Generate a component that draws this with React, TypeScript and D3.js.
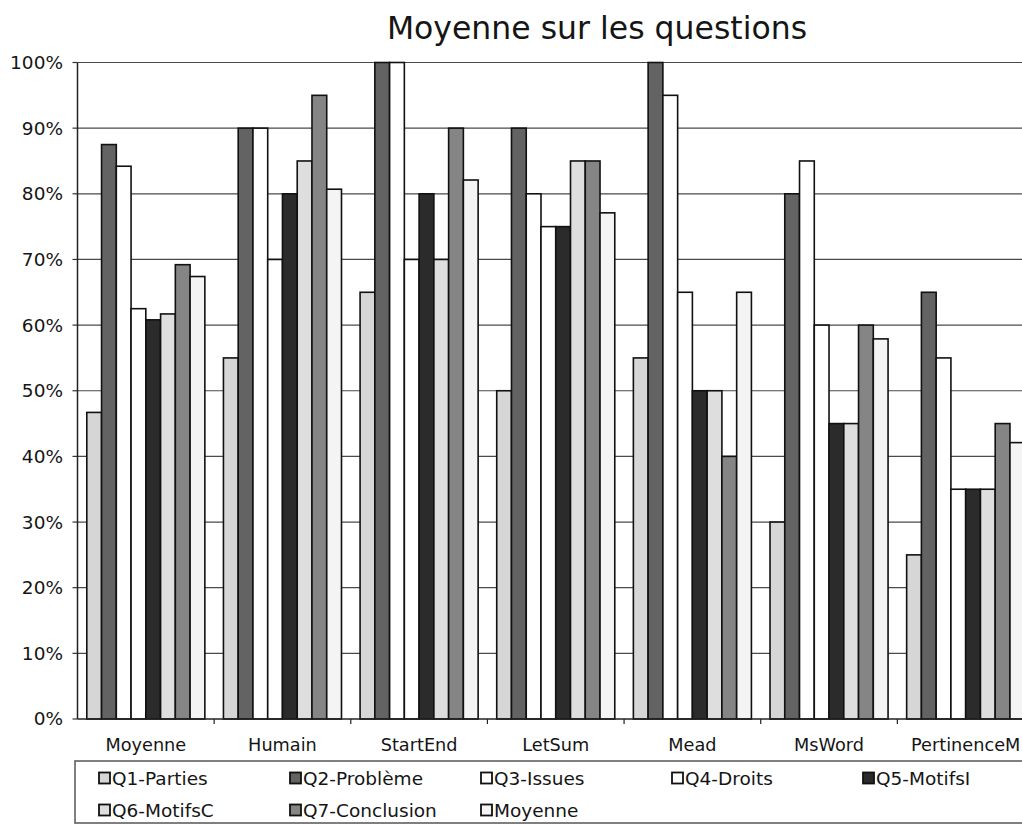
import * as d3 from "d3";
import React from "react";

const width = 1022;
const height = 825;
const margin = { top: 62.5, left: 77.5, bottom: 719 };
const plotRight = 1034; // plot area runs past the cropped edge

const categories = ["Moyenne", "Humain", "StartEnd", "LetSum", "Mead", "MsWord", "PertinenceM"];
const seriesNames = ["Q1-Parties", "Q2-Problème", "Q3-Issues", "Q4-Droits", "Q5-MotifsI", "Q6-MotifsC", "Q7-Conclusion", "Moyenne"];

// values in %, one array per series, in category order
const q1 = [46.7, 55, 65, 50, 55, 30, 25];
const q2 = [87.5, 90, 100, 90, 100, 80, 65];
const q3 = [84.2, 90, 100, 80, 95, 85, 55];
const q4 = [62.5, 70, 70, 75, 65, 60, 35];
const q5 = [60.8, 80, 80, 75, 50, 45, 35];
const q6 = [61.7, 85, 70, 85, 50, 45, 35];
const q7 = [69.2, 95, 90, 85, 40, 60, 45];
const moy = [67.4, 80.7, 82.1, 77.1, 65, 57.9, 42.1];
const seriesValues = [q1, q2, q3, q4, q5, q6, q7, moy];

const yTicks = [0, 10, 20, 30, 40, 50, 60, 70, 80, 90, 100];

const colors = ["#d6d6d6", "#636363", "#ffffff", "#ffffff", "#2b2b2b", "#dedede", "#858585", "#f4f4f4"];

const font = "'DejaVu Sans', Verdana, sans-serif";
const ink = "#151515";

const App = () => {
  const x0 = d3.scaleBand().domain(categories).range([margin.left, plotRight]).padding(0);
  const x1 = d3
    .scaleBand()
    .domain(seriesNames)
    .range([0, x0.bandwidth()])
    .paddingInner(0)
    .paddingOuter(0.63);
  const y = d3.scaleLinear().domain([0, 100]).range([margin.bottom, margin.top]);

  const rows = categories.map((c, ci) => ({
    cat: c,
    bars: seriesNames.map((s, si) => ({ s, si, v: seriesValues[si][ci] })),
  }));

  return (
    <svg
      width={width}
      height={height}
      style={{ position: "absolute", left: 0, top: 0, background: "#fff" }}
    >
      <text x={597} y={39} textAnchor="middle" fontFamily={font} fontSize={31.5} fill={ink}>
        Moyenne sur les questions
      </text>

      {/* gridlines */}
      {yTicks.map((t) => (
        <g key={t}>
          {t > 0 && (
            <line x1={margin.left} x2={plotRight} y1={y(t)} y2={y(t)} stroke="#4a4a4a" strokeWidth={1.2} />
          )}
          <line x1={margin.left - 5} x2={margin.left} y1={y(t)} y2={y(t)} stroke="#333" strokeWidth={1.2} />
          <text
            x={63}
            y={y(t)}
            dy="0.35em"
            textAnchor="end"
            fontFamily={font}
            fontSize={18.5}
            fill={ink}
          >
            {t}%
          </text>
        </g>
      ))}

      {/* bars */}
      {rows.map((r) => (
        <g key={r.cat} transform={`translate(${x0(r.cat)},0)`}>
          {r.bars.map((b) => (
            <rect
              key={b.s}
              x={x1(b.s)}
              y={y(b.v)}
              width={x1.bandwidth()}
              height={y(0) - y(b.v)}
              fill={colors[b.si]}
              stroke="#111"
              strokeWidth={1.6}
            />
          ))}
        </g>
      ))}

      {/* axes */}
      <line x1={margin.left} x2={margin.left} y1={margin.top} y2={margin.bottom} stroke="#222" strokeWidth={1.5} />
      <line x1={margin.left} x2={plotRight} y1={margin.bottom} y2={margin.bottom} stroke="#222" strokeWidth={1.5} />
      {categories.map((c) => (
        <line
          key={c}
          x1={x0(c)! + x0.bandwidth()}
          x2={x0(c)! + x0.bandwidth()}
          y1={margin.bottom}
          y2={margin.bottom + 5}
          stroke="#222"
          strokeWidth={1.2}
        />
      ))}
      {categories.map((c) => (
        <text
          key={c}
          x={x0(c)! + x0.bandwidth() / 2}
          y={751}
          textAnchor="middle"
          fontFamily={font}
          fontSize={17.7}
          fill={ink}
        >
          {c}
        </text>
      ))}

      {/* legend */}
      <rect x={75} y={761} width={960} height={62} fill="none" stroke="#555" strokeWidth={1.5} />
      {seriesNames.map((s, i) => {
        const col = i < 5 ? i : i - 5;
        const row = i < 5 ? 0 : 1;
        const lx = 99 + col * 191;
        const ly = 778 + row * 32;
        return (
          <g key={s}>
            <rect x={lx} y={ly - 5.5} width={11} height={11} fill={colors[i]} stroke="#111" strokeWidth={1.8} />
            <text x={lx + 13} y={ly} dy="0.36em" fontFamily={font} fontSize={18.5} fill={ink}>
              {s}
            </text>
          </g>
        );
      })}
    </svg>
  );
};

export default App;
